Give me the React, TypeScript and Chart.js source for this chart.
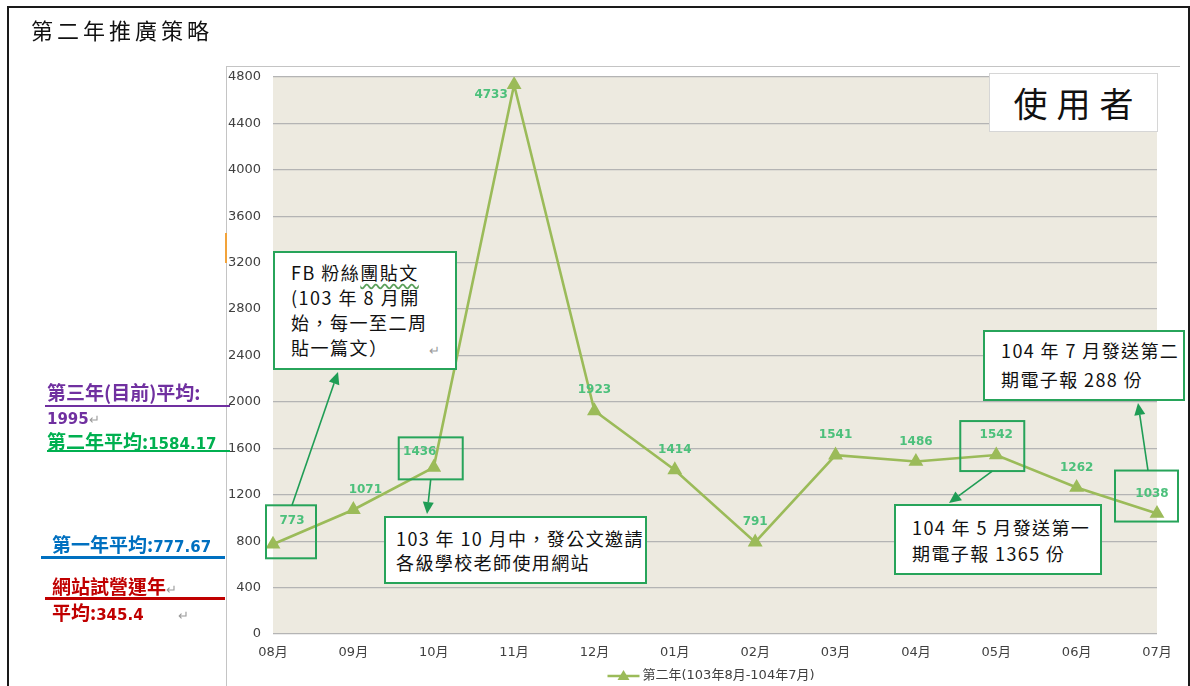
import React, { useEffect, useRef } from "react";
import { Chart, registerables } from "chart.js";

Chart.register(...registerables);

// ---------- data ----------
const months = ["08月", "09月", "10月", "11月", "12月", "01月", "02月", "03月", "04月", "05月", "06月", "07月"];
const users = [773, 1071, 1436, 4733, 1923, 1414, 791, 1541, 1486, 1542, 1262, 1038];
const seriesName = "第二年(103年8月-104年7月)";
const yMin = 0;
const yMax = 4800;
const yStep = 400;

const pageTitle = "第二年推廣策略";
const boxTitle = "使用者";

// ---------- styles / layout ----------
const W = 1190;
const H = 686;
const LINE = "#9BBB59";
const LABEL = "#4CC07B";
const BOX = "#27A45A";
const ARROW = "#1F9D55";
const CJK = "'Noto Sans CJK TC', 'Noto Sans CJK SC', sans-serif";
const NUM = "'DejaVu Sans', 'Noto Sans CJK TC', sans-serif";

// data-label nudges (pixels) per point
const labelDx = [19, 12, -14, -23, 0, 0, 0, 0, 0, 0, 0, -5];
const labelDy = [-23, -20, -15, 10, -21, -20, -20, -20, -20, -20, -20, -20];

// highlight boxes around selected data labels (relative to the point)
const highlights = [
  { i: 0, x1: -7, y1: -39, x2: 43, y2: 14 },
  { i: 2, x1: -35, y1: -30, x2: 29, y2: 12 },
  { i: 9, x1: -36, y1: -34, x2: 28, y2: 16 },
  { i: 11, x1: -42, y1: -43, x2: 21, y2: 8 },
];
// arrows from highlight boxes to callouts
const arrows = [
  { i: 0, sx: 19, sy: -39, ex: 338, ey: 372 },
  { i: 2, sx: -3, sy: 12, ex: 427, ey: 514 },
  { i: 9, sx: -4, sy: 16, ex: 949, ey: 503 },
  { i: 11, sx: -9, sy: -43, ex: 1138, ey: 403 },
];

function drawArrow(ctx: CanvasRenderingContext2D, x1: number, y1: number, x2: number, y2: number) {
  const ang = Math.atan2(y2 - y1, x2 - x1);
  const L = 12;
  const hw = 5.5;
  const bx = x2 - L * Math.cos(ang);
  const by = y2 - L * Math.sin(ang);
  ctx.beginPath();
  ctx.moveTo(x1, y1);
  ctx.lineTo(bx, by);
  ctx.stroke();
  ctx.beginPath();
  ctx.moveTo(x2, y2);
  ctx.lineTo(bx + hw * Math.sin(ang), by - hw * Math.cos(ang));
  ctx.lineTo(bx - hw * Math.sin(ang), by + hw * Math.cos(ang));
  ctx.closePath();
  ctx.fill();
}

const plotBg = {
  id: "plotBg",
  beforeDraw(chart: any) {
    const { ctx, chartArea: a } = chart;
    ctx.save();
    ctx.fillStyle = "#EDEAE0";
    ctx.fillRect(a.left, a.top, a.right - a.left, a.bottom - a.top);
    ctx.restore();
  },
};

const overlay = {
  id: "overlay",
  afterDatasetsDraw(chart: any) {
    const { ctx } = chart;
    const meta = chart.getDatasetMeta(0);
    ctx.save();
    ctx.font = `bold 12px ${NUM}`;
    ctx.fillStyle = LABEL;
    ctx.textAlign = "center";
    ctx.textBaseline = "middle";
    meta.data.forEach((el: any, i: number) => {
      ctx.fillText(String(users[i]), el.x + labelDx[i], el.y + labelDy[i]);
    });
    ctx.restore();
  },
  afterDraw(chart: any) {
    const { ctx, chartArea: a } = chart;
    const meta = chart.getDatasetMeta(0);
    ctx.save();
    // highlight boxes
    ctx.strokeStyle = BOX;
    ctx.lineWidth = 2;
    highlights.forEach((h) => {
      const p = meta.data[h.i];
      ctx.strokeRect(p.x + h.x1, p.y + h.y1, h.x2 - h.x1, h.y2 - h.y1);
    });
    // arrows
    ctx.strokeStyle = ARROW;
    ctx.fillStyle = ARROW;
    ctx.lineWidth = 1.6;
    arrows.forEach((r) => {
      const p = meta.data[r.i];
      drawArrow(ctx, p.x + r.sx, p.y + r.sy, r.ex, r.ey);
    });
    // legend
    ctx.font = `13px ${NUM}`;
    const tw = ctx.measureText(seriesName).width;
    const total = 32 + 3 + tw;
    const sx = (a.left + a.right) / 2 - total / 2 - 4;
    const ly = 676;
    ctx.strokeStyle = LINE;
    ctx.lineWidth = 2.5;
    ctx.beginPath();
    ctx.moveTo(sx, ly);
    ctx.lineTo(sx + 32, ly);
    ctx.stroke();
    ctx.fillStyle = LINE;
    ctx.beginPath();
    ctx.moveTo(sx + 16, ly - 6);
    ctx.lineTo(sx + 22, ly + 4);
    ctx.lineTo(sx + 10, ly + 4);
    ctx.closePath();
    ctx.fill();
    ctx.fillStyle = "#404040";
    ctx.textAlign = "left";
    ctx.textBaseline = "middle";
    ctx.fillText(seriesName, sx + 35, ly);
    ctx.restore();
  },
};

type CalloutProps = {
  x: number; y: number; w: number; h: number;
  lines: React.ReactNode[]; padL: number; padT: number; lh: number; fs: number; ls: number;
};

function Callout(p: CalloutProps) {
  return (
    <div
      style={{
        position: "absolute", left: p.x, top: p.y, width: p.w, height: p.h,
        boxSizing: "border-box", border: `2px solid ${BOX}`, background: "#fff",
        paddingLeft: p.padL, paddingTop: p.padT, fontFamily: CJK, fontSize: p.fs,
        lineHeight: `${p.lh}px`, letterSpacing: p.ls, color: "#111", whiteSpace: "nowrap",
      }}
    >
      {p.lines.map((l, k) => (
        <div key={k}>{l}</div>
      ))}
    </div>
  );
}

const ret = <span style={{ color: "#9a9a9a", fontSize: 13, fontWeight: 400 }}>↵</span>;

function Txt(props: { x: number; cy: number; fs: number; color: string; children: React.ReactNode; bold?: boolean }) {
  const lh = props.fs + 6;
  return (
    <div
      style={{
        position: "absolute", left: props.x, top: props.cy - lh / 2, height: lh, lineHeight: `${lh}px`,
        fontSize: props.fs, color: props.color, fontWeight: props.bold === false ? 400 : 700,
        fontFamily: CJK, whiteSpace: "nowrap",
      }}
    >
      {props.children}
    </div>
  );
}

function Rule(props: { x: number; y: number; w: number; h: number; color: string }) {
  return <div style={{ position: "absolute", left: props.x, top: props.y, width: props.w, height: props.h, background: props.color }} />;
}

const numStyle: React.CSSProperties = { fontFamily: NUM, fontSize: 15 };

export default function App() {
  const ref = useRef<HTMLCanvasElement | null>(null);

  useEffect(() => {
    if (!ref.current) return;
    const chart = new Chart(ref.current, {
      type: "line",
      data: {
        labels: months,
        datasets: [
          {
            label: seriesName,
            data: users,
            borderColor: LINE,
            backgroundColor: LINE,
            borderWidth: 2.6,
            pointStyle: "triangle",
            pointRadius: 6,
            pointHoverRadius: 6,
            pointBackgroundColor: LINE,
            pointBorderColor: LINE,
            tension: 0,
          },
        ],
      },
      options: {
        responsive: false,
        animation: false,
        events: [],
        layout: { padding: { top: 77, right: W - 1157, bottom: 0, left: 0 } },
        plugins: { legend: { display: false }, tooltip: { enabled: false }, title: { display: false } },
        scales: {
          x: {
            offset: false,
            grid: { display: false, drawTicks: false },
            border: { display: false },
            ticks: {
              color: "#404040", font: { size: 13, family: NUM }, padding: 11,
              maxRotation: 0, autoSkip: false,
            },
            afterFit: (s: any) => { s.height = H - 634; },
          },
          y: {
            min: yMin,
            max: yMax,
            grid: { color: "#B4B4B4", lineWidth: 1.2, drawTicks: false },
            border: { display: false },
            ticks: {
              stepSize: yStep, color: "#404040", font: { size: 13, family: NUM }, padding: 12,
              callback: (v: any) => String(v),
            },
            afterFit: (s: any) => { s.width = 273; },
          },
        },
      },
      plugins: [plotBg, overlay],
    });
    return () => chart.destroy();
  }, []);

  return (
    <div style={{ position: "absolute", left: 0, top: 0, width: W, height: H, overflow: "hidden", background: "#fff" }}>
      {/* outer frame */}
      <div style={{ position: "absolute", left: 7, top: 6, width: W - 7, height: 720, boxSizing: "border-box", borderLeft: "2px solid #1a1a1a", borderTop: "2px solid #1a1a1a", borderRight: "2px solid #1a1a1a" }} />
      {/* chart frame */}
      <div style={{ position: "absolute", left: 226, top: 66, width: 1180 - 226, height: 700, boxSizing: "border-box", borderLeft: "1px solid #c4c4c4", borderTop: "1px solid #c4c4c4" }} />
      <Rule x={225} y={233} w={2} h={30} color="#F2A33A" />

      <canvas ref={ref} width={W} height={H} style={{ position: "absolute", left: 0, top: 0, width: W, height: H }} />

      {/* page title */}
      <div style={{ position: "absolute", left: 31, top: 15, fontFamily: CJK, fontSize: 22, letterSpacing: 4, lineHeight: "28px", color: "#111", whiteSpace: "nowrap" }}>
        {pageTitle}
      </div>

      {/* 使用者 box */}
      <div style={{ position: "absolute", left: 989, top: 73, width: 169, height: 59, boxSizing: "border-box", border: "1px solid #d6d6d6", background: "#fff", fontFamily: CJK, fontSize: 34, letterSpacing: 9, lineHeight: "57px", textAlign: "center", paddingLeft: 9, color: "#111" }}>
        {boxTitle}
      </div>

      {/* left averages */}
      <Txt x={47} cy={391} fs={19} color="#7030A0">第三年(目前)平均:</Txt>
      <Rule x={45} y={405} w={185} h={2} color="#7030A0" />
      <Txt x={47} cy={417} fs={15} color="#7030A0"><span style={numStyle}>1995</span>{ret}</Txt>

      <Txt x={47} cy={440} fs={19} color="#00B050">第二年平均:<span style={numStyle}>1584.17</span></Txt>
      <Rule x={47} y={450} w={183} h={2} color="#00B050" />

      <Txt x={52} cy={543} fs={19} color="#0070C0">第一年平均:<span style={numStyle}>777.67</span></Txt>
      <Rule x={41} y={556} w={184} h={3} color="#0070C0" />

      <Txt x={52} cy={585} fs={19} color="#C00000">網站試營運年{ret}</Txt>
      <Rule x={45} y={597} w={180} h={3} color="#C00000" />
      <Txt x={52} cy={611} fs={19} color="#C00000">平均:<span style={numStyle}>345.4</span><span style={{ display: "inline-block", width: 34 }} />{ret}</Txt>

      {/* callouts */}
      <Callout x={273} y={251} w={184} h={119} padL={16} padT={7} lh={25} fs={18} ls={1.5}
        lines={[
          <>FB 粉絲<span style={{ textDecoration: "underline wavy #5aa05a", textUnderlineOffset: 3 }}>團貼文</span></>,
          "(103 年 8 月開",
          "始，每一至二周",
          <>貼一篇文）<span style={{ display: "inline-block", width: 40 }} />{ret}</>,
        ]} />
      <Callout x={384} y={516} w={263} h={68} padL={10} padT={8} lh={24} fs={18} ls={1.4}
        lines={["103 年 10 月中，發公文邀請", "各級學校老師使用網站"]} />
      <Callout x={894} y={504} w={208} h={71} padL={16} padT={8} lh={26} fs={18} ls={1.4}
        lines={["104 年 5 月發送第一", "期電子報 1365 份"]} />
      <Callout x={983} y={330} w={202} h={71} padL={16} padT={4} lh={29} fs={18} ls={1.4}
        lines={["104 年 7 月發送第二", "期電子報 288 份"]} />
    </div>
  );
}
